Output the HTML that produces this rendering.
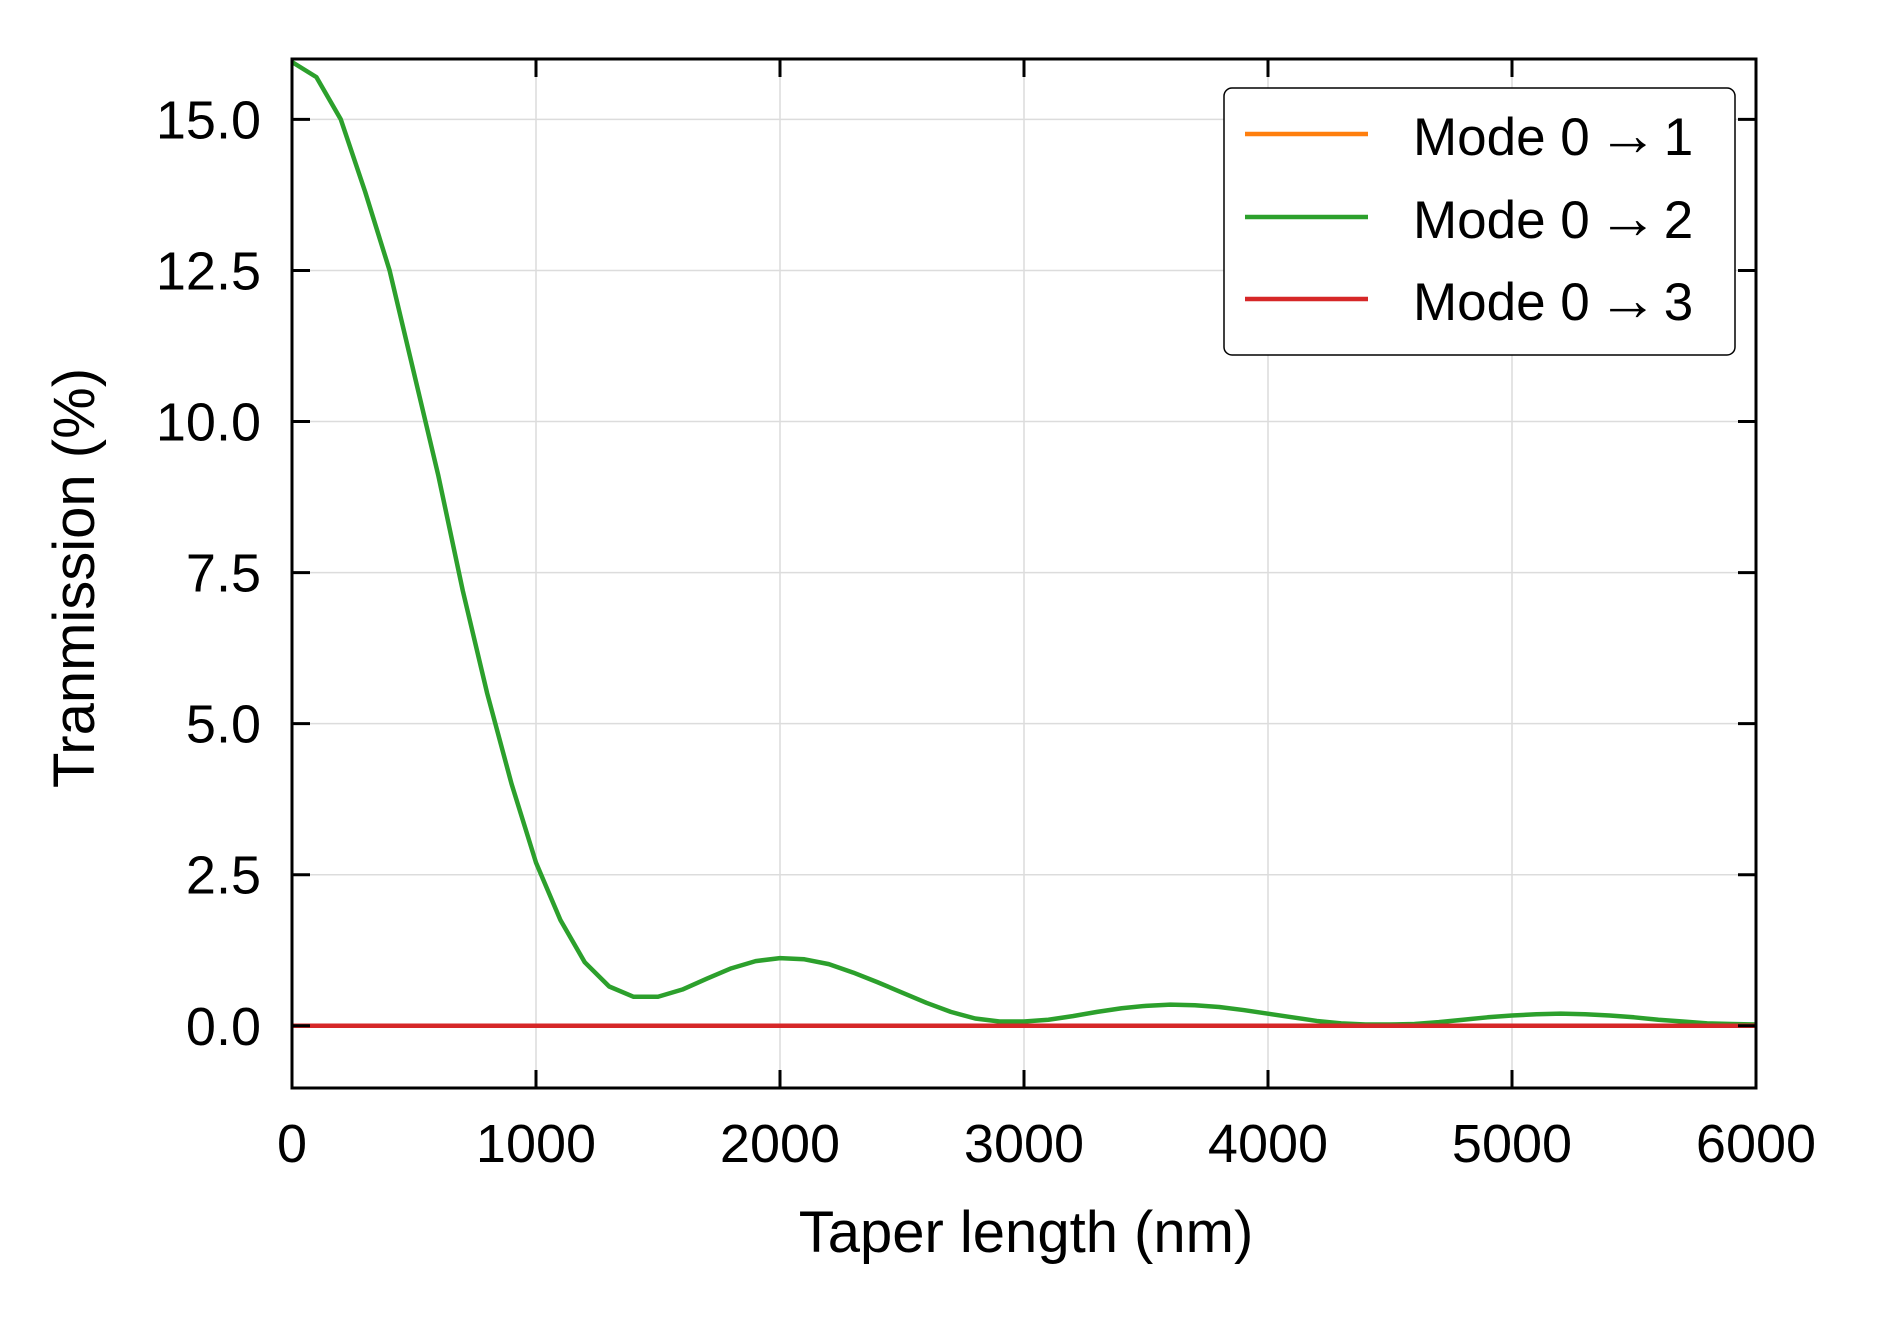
<!DOCTYPE html>
<html><head><meta charset="utf-8"><style>
body{margin:0;background:#fff}
svg text{font-family:"Liberation Sans",Arial,sans-serif;fill:#000}
</style></head><body>
<svg id="chart" width="1880" height="1320" viewBox="0 0 1880 1320">
<g id="grid"></g>
<g id="series"></g>
<g id="axes"></g>
<text x="1026" y="1252" font-size="58" text-anchor="middle">Taper length (nm)</text>
<text transform="translate(94,578) rotate(-90)" font-size="58" text-anchor="middle">Tranmission (%)</text>
<g>
<rect x="1224" y="88" width="511" height="267" rx="8" fill="#fff" stroke="#000" stroke-width="1.5"/>
<g><line x1="1245" y1="134" x2="1368" y2="134" stroke="#ff7f0e" stroke-width="4.5"/><text x="1413" y="155" font-size="53">Mode 0<tspan font-size="60" dx="8">→</tspan><tspan dx="6">1</tspan></text></g>
<g><line x1="1245" y1="217" x2="1368" y2="217" stroke="#2ca02c" stroke-width="4.5"/><text x="1413" y="238" font-size="53">Mode 0<tspan font-size="60" dx="8">→</tspan><tspan dx="6">2</tspan></text></g>
<g><line x1="1245" y1="299" x2="1368" y2="299" stroke="#d62728" stroke-width="4.5"/><text x="1413" y="320" font-size="53">Mode 0<tspan font-size="60" dx="8">→</tspan><tspan dx="6">3</tspan></text></g>
</g>
</svg>
<script>
const xs = [0,100,200,300,400,500,600,700,800,900,1000,1100,1200,1300,1400,1500,1600,1700,1800,1900,2000,2100,2200,2300,2400,2500,2600,2700,2800,2900,3000,3100,3200,3300,3400,3500,3600,3700,3800,3900,4000,4100,4200,4300,4400,4500,4600,4700,4800,4900,5000,5100,5200,5300,5400,5500,5600,5700,5800,5900,6000];
const mode02 = [15.95,15.7,15.0,13.8,12.5,10.8,9.1,7.2,5.5,4.0,2.7,1.75,1.05,0.65,0.48,0.48,0.6,0.78,0.95,1.07,1.12,1.1,1.02,0.88,0.72,0.55,0.38,0.23,0.12,0.07,0.07,0.1,0.16,0.23,0.29,0.33,0.35,0.34,0.31,0.26,0.2,0.14,0.08,0.04,0.02,0.02,0.03,0.06,0.1,0.14,0.17,0.19,0.2,0.19,0.17,0.14,0.1,0.07,0.04,0.03,0.02];
const mode01 = xs.map(()=>0);
const mode03 = xs.map(()=>0);
const xTicks = [0,1000,2000,3000,4000,5000,6000];
const yTicks = [0.0,2.5,5.0,7.5,10.0,12.5,15.0];
const yTickLabels = ["0.0","2.5","5.0","7.5","10.0","12.5","15.0"];

const L=292,R=1756,T=59,B=1088,XMIN=0,XMAX=6000,YMIN=-1.03,YMAX=16.0;
const sx=v=>L+(v-XMIN)/(XMAX-XMIN)*(R-L);
const sy=v=>B-(v-YMIN)/(YMAX-YMIN)*(B-T);
const NS="http://www.w3.org/2000/svg";
function mk(tag,attrs,parent){const e=document.createElementNS(NS,tag);for(const k in attrs)e.setAttribute(k,attrs[k]);parent.appendChild(e);return e;}
const grid=document.getElementById('grid'),axes=document.getElementById('axes'),series=document.getElementById('series');
xTicks.forEach(t=>{
  const g=mk('line',{x1:sx(t),x2:sx(t),y1:T,y2:B,stroke:'#dcdcdc','stroke-width':1.5},grid);
  
  
  [[B,B-18],[T,T+18]].forEach(([a,b])=>{const k=mk('line',{x1:sx(t),x2:sx(t),y1:a,y2:b,stroke:'#000','stroke-width':3},axes);
    
    });
  const tx=mk('text',{x:sx(t),y:1162,'font-size':54,'text-anchor':'middle'},axes);tx.textContent=t;
  
  
});
yTicks.forEach((t,i)=>{
  const g=mk('line',{x1:L,x2:R,y1:sy(t),y2:sy(t),stroke:'#dcdcdc','stroke-width':1.5},grid);
  
  
  [[L,L+18],[R,R-18]].forEach(([a,b])=>{const k=mk('line',{x1:a,x2:b,y1:sy(t),y2:sy(t),stroke:'#000','stroke-width':3},axes);
    
    });
  const tx=mk('text',{x:261,y:sy(t)+19,'font-size':54,'text-anchor':'end'},axes);tx.textContent=yTickLabels[i];
  
  
});
const frame=mk('rect',{x:L,y:T,width:R-L,height:B-T,fill:'none',stroke:'#000','stroke-width':3},axes);


function line(data,color,name){
  const p=mk('polyline',{points:xs.map((x,i)=>sx(x)+','+sy(data[i])).join(' '),fill:'none',stroke:color,'stroke-width':4.5,'stroke-linejoin':'round'},series);
  
  
}
line(mode01,'#ff7f0e','line-mode-0-1');
line(mode02,'#2ca02c','line-mode-0-2');
line(mode03,'#d62728','line-mode-0-3');
</script>
</body></html>
